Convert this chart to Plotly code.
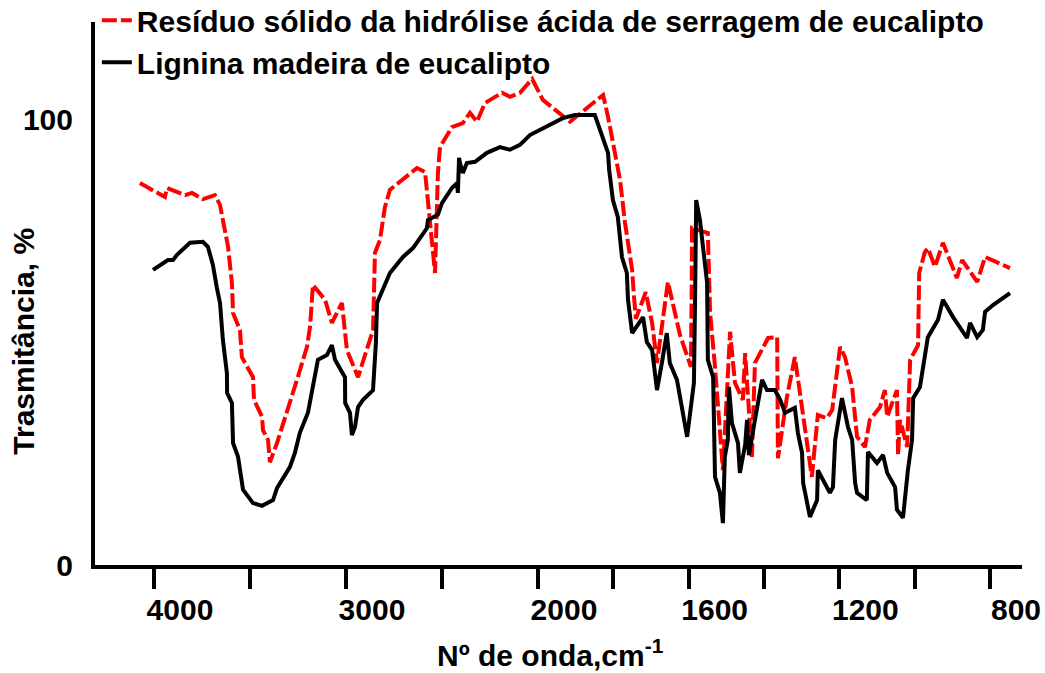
import plotly.graph_objects as go

# FTIR spectra: wavenumber (cm-1) and transmittance (%)
res_wn = [4073, 3943, 3932, 3838, 3802, 3745, 3682, 3656, 3614, 3594,
          3588, 3552, 3542, 3484, 3479, 3437, 3432, 3406, 3396, 3359,
          3255, 3203, 3187, 3172, 3109, 3073, 3021, 2995, 2937, 2859,
          2854, 2849, 2823, 2807, 2797, 2771, 2630, 2588, 2536, 2521,
          2510, 2448, 2391, 2354, 2318, 2276, 2187, 2146, 2094, 2030,
          1987, 1915, 1827, 1814, 1796, 1782, 1769, 1750, 1745, 1740,
          1714, 1697, 1684, 1655, 1623, 1594, 1592, 1591, 1549, 1543,
          1530, 1509, 1490, 1477, 1456, 1450, 1432, 1424, 1389, 1365,
          1363, 1339, 1318, 1291, 1273, 1257, 1233, 1219, 1198, 1185,
          1166, 1153, 1132, 1119, 1092, 1079, 1073, 1047, 1044, 1039,
          1020, 1012, 991, 988, 973, 965, 946, 925, 888, 874,
          834, 813, 747]
res_t = [85.8, 82.7, 84.7, 83.1, 83.6, 82.2, 83.1, 80.9, 71.5, 63.4,
         56.6, 52.8, 46.7, 42.2, 37.1, 33.3, 30.3, 28.1, 23.1, 27.4,
         41.6, 49.0, 53.5, 62.9, 59.6, 54.4, 58.9, 48.3, 42.2, 52.8,
         61.1, 70.1, 73.0, 77.1, 80.4, 84.3, 89.2, 88.3, 65.6, 88.1,
         93.9, 98.4, 99.3, 101.6, 99.6, 103.8, 106.1, 105.2, 106.1, 109.2,
         104.5, 99.6, 105.6, 100.7, 92.6, 86.5, 76.9, 66.3, 60.2, 55.3,
         61.3, 54.4, 45.4, 63.6, 51.7, 44.5, 61.8, 75.7, 74.6, 56.6,
         44.5, 21.3, 52.4, 40.9, 37.1, 47.6, 24.3, 45.4, 51.0, 51.2,
         24.0, 37.8, 46.7, 31.0, 19.8, 33.7, 33.0, 34.8, 49.0, 46.7,
         40.0, 28.8, 26.5, 32.6, 35.5, 39.3, 33.3, 39.3, 24.7, 32.6,
         26.5, 46.1, 49.4, 65.6, 70.3, 71.2, 67.0, 72.4, 64.5, 68.5,
         63.6, 69.2, 66.7]

lig_wn = [4005, 3927, 3901, 3880, 3812, 3745, 3719, 3693, 3672, 3656,
          3641, 3620, 3619, 3594, 3588, 3562, 3536, 3484, 3437, 3380,
          3359, 3292, 3266, 3240, 3198, 3177, 3146, 3099, 3073, 3057,
          3005, 3004, 2979, 2969, 2953, 2937, 2911, 2859, 2849, 2844,
          2838, 2771, 2703, 2651, 2578, 2573, 2521, 2500, 2448, 2422,
          2417, 2411, 2406, 2391, 2370, 2328, 2266, 2198, 2146, 2094,
          2042, 1995, 1934, 1902, 1849, 1814, 1811, 1801, 1788, 1777,
          1764, 1761, 1750, 1721, 1711, 1697, 1684, 1671, 1658, 1650,
          1631, 1604, 1586, 1583, 1580, 1570, 1551, 1549, 1535, 1530,
          1517, 1509, 1504, 1496, 1493, 1485, 1469, 1464, 1450, 1445,
          1440, 1424, 1405, 1392, 1371, 1357, 1344, 1318, 1310, 1299,
          1296, 1278, 1259, 1257, 1225, 1217, 1211, 1193, 1177, 1166,
          1158, 1153, 1127, 1124, 1100, 1084, 1073, 1052, 1047, 1031,
          1018, 1007, 1004, 986, 965, 938, 925, 898, 874, 861,
          853, 834, 819, 813, 792, 747]
lig_t = [66.3, 68.5, 68.5, 69.7, 72.4, 72.6, 71.5, 67.4, 62.2, 58.9,
         50.6, 43.1, 38.7, 36.4, 27.4, 24.3, 16.9, 13.9, 13.3, 14.6,
         17.3, 22.0, 25.2, 29.7, 34.2, 39.3, 46.1, 47.2, 49.4, 46.1,
         42.2, 36.4, 34.2, 29.2, 31.0, 35.5, 37.1, 39.3, 46.1, 49.9,
         58.9, 65.6, 69.2, 71.2, 75.7, 77.5, 78.7, 81.3, 84.7, 85.8,
         83.6, 91.5, 90.3, 88.1, 90.3, 90.6, 92.6, 93.9, 93.3, 94.4,
         96.6, 97.8, 100.4, 101.1, 101.1, 92.6, 88.8, 82.0, 78.2, 69.2,
         65.6, 59.6, 52.1, 55.7, 50.1, 48.3, 39.3, 45.4, 52.1, 45.4,
         41.6, 28.8, 40.9, 58.9, 82.0, 77.5, 63.4, 46.1, 42.2, 19.8,
         16.2, 9.4, 24.3, 28.1, 40.0, 31.9, 27.4, 20.7, 27.0, 32.6,
         24.7, 32.6, 41.6, 39.3, 39.3, 37.1, 34.2, 35.3, 29.7, 25.2,
         18.4, 10.8, 14.6, 21.3, 16.2, 17.5, 28.1, 37.5, 31.0, 28.1,
         18.4, 16.2, 14.6, 25.4, 22.9, 24.7, 20.7, 17.5, 12.4, 10.6,
         21.3, 28.1, 37.5, 40.0, 51.2, 55.1, 59.6, 55.7, 52.8, 51.0,
         54.4, 51.2, 52.8, 56.9, 58.4, 61.1]

tick_wn = [4000, 3500, 3000, 2500, 2000, 1800, 1600, 1400, 1200, 1000, 800]
tick_text = ["4000", "", "3000", "", "2000", "", "1600", "", "1200", "", "800"]

# The wavenumber scale changes at 2000 cm-1: below it, each cm-1 is
# drawn about twice as wide as above it.
BREAK = 2000.0
STRETCH = 1.962


def to_axis(w):
    return w if w >= BREAK else BREAK - (BREAK - w) * STRETCH


FONT = "Liberation Sans, Arial, sans-serif"
BOLD = dict(family=FONT, size=30, color="black", weight="bold")

fig = go.Figure()
fig.add_trace(go.Scatter(
    x=[to_axis(w) for w in res_wn], y=res_t, mode="lines",
    name="Resíduo sólido da hidrólise ácida de serragem de eucalipto",
    line=dict(color="#ff0000", width=4, dash="15px,4px"),
))
fig.add_trace(go.Scatter(
    x=[to_axis(w) for w in lig_wn], y=lig_t, mode="lines",
    name="Lignina madeira de eucalipto",
    line=dict(color="#000000", width=4),
))

fig.update_layout(
    width=1045, height=673,
    margin=dict(l=95, r=23, t=22, b=108, autoexpand=False),
    paper_bgcolor="white", plot_bgcolor="white",
    font=BOLD,
    showlegend=True,
    legend=dict(x=0.002, y=1.051, xanchor="left", yanchor="top",
                bgcolor="rgba(0,0,0,0)", borderwidth=0,
                font=dict(family=FONT, size=30, color="black", weight="bold"),
                tracegroupgap=0),
    xaxis=dict(
        range=[4307, -521], autorange=False,
        tickmode="array", tickvals=[to_axis(w) for w in tick_wn], ticktext=tick_text,
        ticks="outside", ticklen=20, tickwidth=4, tickcolor="black",
        showline=True, linewidth=4, linecolor="black",
        showgrid=False, zeroline=False,
        ticklabelshift=-26, ticklabelstandoff=-5,
        tickfont=BOLD,
    ),
    yaxis=dict(
        range=[0, 122], autorange=False,
        tickmode="array", tickvals=[0, 100], ticktext=["0", "100"],
        ticks="", showline=True, linewidth=4, linecolor="black",
        showgrid=False, zeroline=False, ticklabelstandoff=12,
        tickfont=BOLD,
    ),
    annotations=[
        dict(text="Nº de onda,cm<sup>-1</sup>", xref="paper", yref="paper",
             x=0.491, y=-0.162, xanchor="center", yanchor="middle",
             showarrow=False, font=BOLD),
        dict(text="Trasmitância, %", xref="paper", yref="paper",
             x=-0.078, y=0.4125, xanchor="center", yanchor="middle",
             textangle=-90, showarrow=False, font=BOLD),
    ],
)

fig.write_html("out.html")
